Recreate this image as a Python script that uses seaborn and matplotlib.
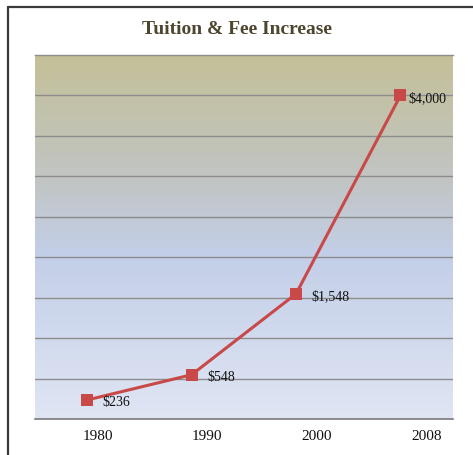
import numpy as np
import pandas as pd
import matplotlib
matplotlib.use("Agg")
import matplotlib.pyplot as plt
import seaborn as sns
from matplotlib.colors import LinearSegmentedColormap
from matplotlib.lines import Line2D

# Data
years = ['1980', '1990', '2000', '2008']
costs = [236, 548, 1548, 4000]
cost_labels = ['$236', '$548', '$1,548', '$4,000']

df = pd.DataFrame({'pos': np.arange(len(years)), 'cost': costs})

sns.set_style("white")
plt.rcParams['font.family'] = ['Liberation Serif', 'DejaVu Serif']

fig = plt.figure(figsize=(4.73, 4.55), dpi=100)
ax = fig.add_axes([0.074, 0.079, 0.883, 0.800])

# gradient background (top olive -> blue -> light blue)
cmap = LinearSegmentedColormap.from_list(
    'bg', [(0.0, '#c4c098'), (0.35, '#c1c5c5'), (0.55, '#c3cfe8'), (1.0, '#dfe5f3')])
grad = np.linspace(0, 1, 256).reshape(-1, 1)
ax.imshow(grad, cmap=cmap, aspect='auto', extent=[0, 1, 0, 1],
          transform=ax.transAxes, zorder=0)

sns.lineplot(data=df, x='pos', y='cost', ax=ax, color='#c94848', linewidth=2.2,
             marker='s', markersize=8, markeredgewidth=0, zorder=3)

ax.set_xlim(-0.5, len(years) - 0.5)
ax.set_ylim(0, 4500)
ax.set_yticks(np.arange(500, 4500, 500))
ax.yaxis.grid(True, color='#8c8c8c', linewidth=1)
ax.set_axisbelow(False)
for gl in ax.get_ygridlines():
    gl.set_zorder(1)
ax.set_yticklabels([])
ax.tick_params(axis='both', length=0)

# year labels sit a bit right of the points, as in the original
ax.set_xticks(np.arange(len(years)) * 1.05 + 0.1)
ax.set_xticklabels(years, fontsize=11, color='#111111')
ax.tick_params(axis='x', pad=8)
ax.set_xlabel('')
ax.set_ylabel('')

for s in ['left', 'right']:
    ax.spines[s].set_visible(False)
ax.spines['top'].set_color('#8c8c8c')
ax.spines['top'].set_linewidth(1)
ax.spines['bottom'].set_color('#7a7a7a')
ax.spines['bottom'].set_linewidth(1.2)

# label offsets (points)
label_dx = [11, 11, 11, 6]
for x, y, lab, dx in zip(df['pos'], df['cost'], cost_labels, label_dx):
    ax.annotate(lab, (x, y), xytext=(dx, -2), textcoords='offset points',
                ha='left', va='center', fontsize=10, color='#111111', zorder=4)

fig.text(0.5, 0.936, 'Tuition & Fee Increase', ha='center', va='center',
         fontsize=14, fontweight='bold', color='#4d4530')

# frame on left and top
fig.add_artist(Line2D([0.017, 0.017], [0, 0.985], transform=fig.transFigure,
                      color='#3a3a3a', linewidth=1.6))
fig.add_artist(Line2D([0.017, 1.0], [0.985, 0.985], transform=fig.transFigure,
                      color='#3a3a3a', linewidth=1.6))

fig.savefig('out.png', dpi=100)
